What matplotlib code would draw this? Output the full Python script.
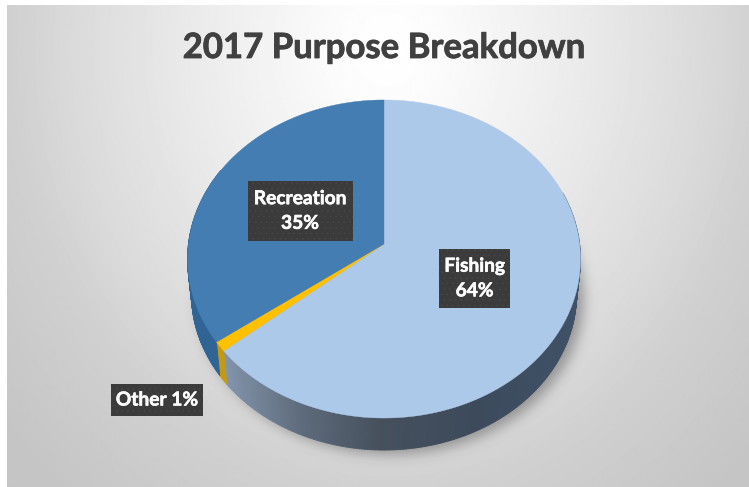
import numpy as np
import matplotlib
matplotlib.use("Agg")
import matplotlib.pyplot as plt
import matplotlib.patheffects as pe
from matplotlib.patches import Polygon, Rectangle
from matplotlib.collections import PolyCollection
from matplotlib.colors import LinearSegmentedColormap
from matplotlib.path import Path

TITLE = "2017 Purpose Breakdown"
categories = ["Fishing", "Other", "Recreation"]
shares = [64, 1, 35]
top_colors = ["#adc9e9", "#ffc000", "#447db2"]
side_colors = [None, "#c49a12", "#2f6494"]
label_boxes = [(439, 249, 71, 59), (111, 384, 92, 32), (247.5, 181, 105, 60)]
label_breaks = ["\n", " ", "\n"]

W, H = 749, 487
CX, AY = 384.0, 244.0      # centre of the pie in pixels (apex of the wedges)
A, B, K = 195.6, 157.6, 0.0943  # perspective ellipse
DEPTH_Y, DEPTH_S = 279.5, 0.98  # lower rim offset and shrink


def rim(theta_deg, lower=False):
    """Rim position for a clockwise angle measured from twelve o'clock."""
    t = np.radians(theta_deg)
    u, v = np.sin(t), -np.cos(t)
    w = 1 - K * v
    x, y = A * u / w, B * v / w
    if lower:
        return CX + DEPTH_S * x, DEPTH_Y + DEPTH_S * y
    return CX + x, AY + y


fig = plt.figure(figsize=(W / 100, H / 100), dpi=100, facecolor="white")
ax = fig.add_axes([0, 0, 1, 1])
ax.axis("off")

# Radial background running from white at the top centre to grey at the edges
yy, xx = np.mgrid[0.5:H, 0.5:W]
d = np.sqrt(((xx - 384) / 400) ** 2 + ((yy - 45) / 470) ** 2)
shade = np.interp(d, [0.0, 0.12, 0.5, 0.8, 0.95, 1.25], [255, 252, 234, 218, 208, 197])
bg = LinearSegmentedColormap.from_list("g", ["black", "white"])
ax.imshow(shade, cmap=bg, vmin=0, vmax=255, extent=(7, W, H, 5), zorder=0,
          aspect="auto", interpolation="bilinear")

# Soft drop shadow under the disc
th = np.linspace(0, 360, 721)
sx, sy = rim(th, lower=True)
mask = Path(np.c_[sx + 7, sy + 4]).contains_points(np.c_[xx.ravel(), yy.ravel()]).reshape(xx.shape).astype(float)
sigma = 6.5
kernel = np.exp(-0.5 * (np.arange(-20, 21) / sigma) ** 2)
kernel /= kernel.sum()
for axis in (0, 1):
    mask = np.apply_along_axis(lambda m: np.convolve(m, kernel, mode="same"), axis, mask)
rgba = np.zeros((H, W, 4))
rgba[..., :3] = 0.3
rgba[..., 3] = mask * 0.5
ax.imshow(rgba, extent=(0, W, H, 0), zorder=1, aspect="auto")
ax.set_xlim(0, W)
ax.set_ylim(H, 0)

# Angular extent of each slice, clockwise from the top
edges = np.cumsum([0] + shares) * 3.6

# Side wall of the disc
fish_x = [220, 300, 380, 480, 585]
fish_c = np.array([[0x84, 0x96, 0xae], [0x5e, 0x6b, 0x7c], [0x46, 0x50, 0x5d],
                   [0x3c, 0x4a, 0x5c], [0x40, 0x52, 0x68]]) / 255
for i, (start, stop) in enumerate(zip(edges[:-1], edges[1:])):
    seq = np.arange(start, stop + 0.5, 0.75)
    seq[-1] = stop
    seq = seq[(seq > 70) & (seq < 300)] if len(seq) > 8 else seq
    quads, cols = [], []
    for a0, a1 in zip(seq[:-1], seq[1:]):
        x0, y0 = rim(a0)
        x1, y1 = rim(a1)
        x2, y2 = rim(a1, True)
        x3, y3 = rim(a0, True)
        quads.append([(x0, y0), (x1, y1), (x2, y2), (x3, y3)])
        if side_colors[i] is None:
            cols.append([np.interp((x0 + x1) / 2, fish_x, fish_c[:, c]) for c in range(3)])
        else:
            cols.append(matplotlib.colors.to_rgb(side_colors[i]))
    ax.add_collection(PolyCollection(quads, facecolors=cols, edgecolors=cols,
                                     linewidths=0.6, zorder=2))

# Top face of each slice
for i, (start, stop) in enumerate(zip(edges[:-1], edges[1:])):
    seq = np.linspace(start, stop, max(3, int(stop - start) * 2))
    px, py = rim(seq)
    pts = np.vstack([[CX, AY], np.c_[px, py]])
    ax.add_patch(Polygon(pts, closed=True, facecolor=top_colors[i],
                         edgecolor=top_colors[i], linewidth=0.3, zorder=3))

# Value labels on dark boxes
plt.rcParams["hatch.linewidth"] = 0.4
for cat, val, box, sep in zip(categories, shares, label_boxes, label_breaks):
    x, y, w, h = box
    ax.add_patch(Rectangle((x, y), w, h, facecolor="#3b3b3b", edgecolor="#474747",
                           hatch="...", linewidth=0, zorder=4))
    ax.text(x + w / 2, y + h / 2, f"{cat}{sep}{val}%", color="white", ha="center",
            va="center", family="Lato", weight="bold", fontsize=13.8,
            linespacing=1.55, zorder=5,
            path_effects=[pe.withStroke(linewidth=0.4, foreground="white")])

ax.text(384, 48, TITLE, ha="center", va="center", family="Lato", weight="bold",
        fontsize=25, color="#404040", zorder=5,
        path_effects=[pe.withStroke(linewidth=0.6, foreground="#404040")])

fig.savefig("out.png", dpi=100, facecolor="white")
